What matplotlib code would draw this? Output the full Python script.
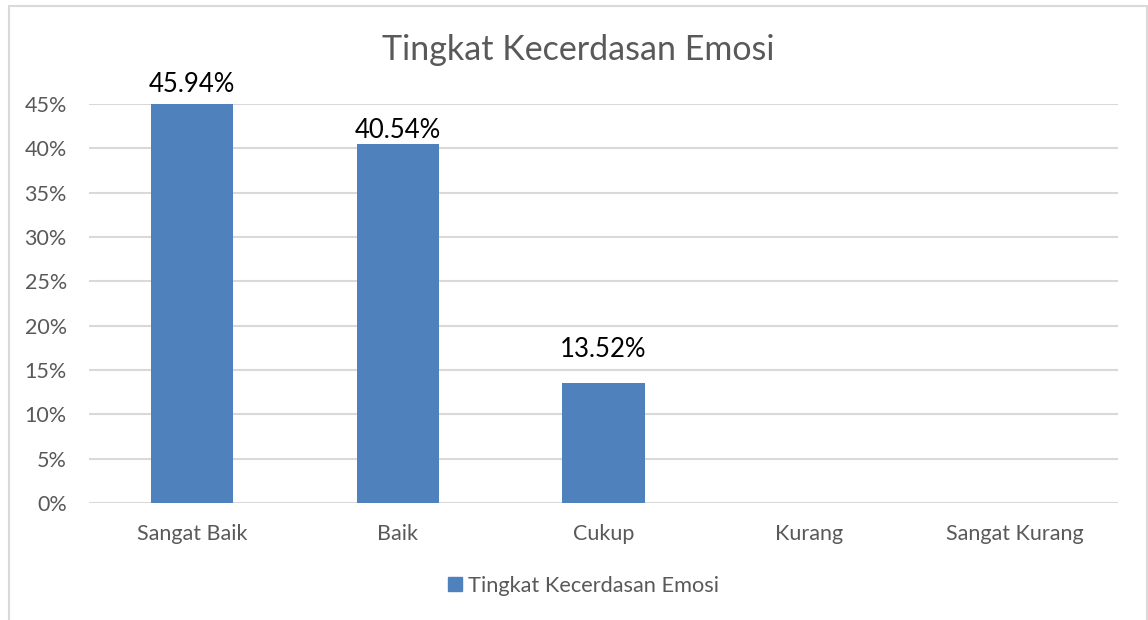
import matplotlib
matplotlib.use("Agg")
from matplotlib import pyplot as plt
from matplotlib.patches import Rectangle
from matplotlib.ticker import PercentFormatter
from matplotlib.lines import Line2D

categories = ["Sangat Baik", "Baik", "Cukup", "Kurang", "Sangat Kurang"]
values = [45.94, 40.54, 13.52, 0, 0]
labels = ["45.94%", "40.54%", "13.52%", None, None]
series_name = "Tingkat Kecerdasan Emosi"
title = "Tingkat Kecerdasan Emosi"

# label offset above bar top (points), the Cukup label sits higher
label_offsets = [14.4, 9.4, 24.5, 0, 0]

plt.rcParams['font.family'] = ['Lato', 'DejaVu Sans']

W, H = 1148, 620
fig = plt.figure(figsize=(W / 100, H / 100), dpi=100)
fig.patch.set_facecolor("white")

# chart area border
fig.patches.append(Rectangle((9 / W, -0.05), (1147 - 9) / W, 1 - 6 / H + 0.05,
                             transform=fig.transFigure, fill=False,
                             edgecolor="#d9d9d9", linewidth=1.5))

ax = fig.add_axes([89 / W, 1 - 503 / H, (1118 - 89) / W, (503 - 104) / H])
bar_color = "#4f81bd"
x = list(range(len(categories)))
ax.bar(x, values, width=0.4, color=bar_color, zorder=3)

ymax = 45
ax.set_ylim(0, ymax)
ax.set_xlim(-0.5, len(categories) - 0.5)
ax.set_yticks(range(0, 46, 5))
ax.yaxis.set_major_formatter(PercentFormatter(decimals=0))
ax.grid(axis="y", color="#d9d9d9", linewidth=1.5, zorder=0)
for s in ax.spines.values():
    s.set_visible(False)
ax.tick_params(axis="both", length=0, labelsize=15.5, labelcolor="#595959")
ax.tick_params(axis="y", pad=16)
ax.tick_params(axis="x", pad=15)
ax.set_xticks(x)
ax.set_xticklabels(categories)

for i, (v, lab) in enumerate(zip(values, labels)):
    if lab is None:
        continue
    ax.annotate(lab, xy=(i, min(v, ymax)), xytext=(0, label_offsets[i]),
                textcoords="offset points", ha="center", va="center",
                fontsize=18.5, color="black", annotation_clip=False)

fig.text(578 / W, 1 - 50 / H, title, ha="center", va="center",
         fontsize=24.5, color="#595959")

handle = Line2D([], [], marker="s", linestyle="none", markersize=9.5,
                markerfacecolor=bar_color, markeredgecolor=bar_color)
leg = fig.legend([handle], [series_name], loc="center",
                 bbox_to_anchor=(582 / W, 1 - 586 / H), frameon=False,
                 fontsize=15.7, handletextpad=0.1, handlelength=1.0)
for t in leg.get_texts():
    t.set_color("#595959")

fig.savefig("out.png", dpi=100)
